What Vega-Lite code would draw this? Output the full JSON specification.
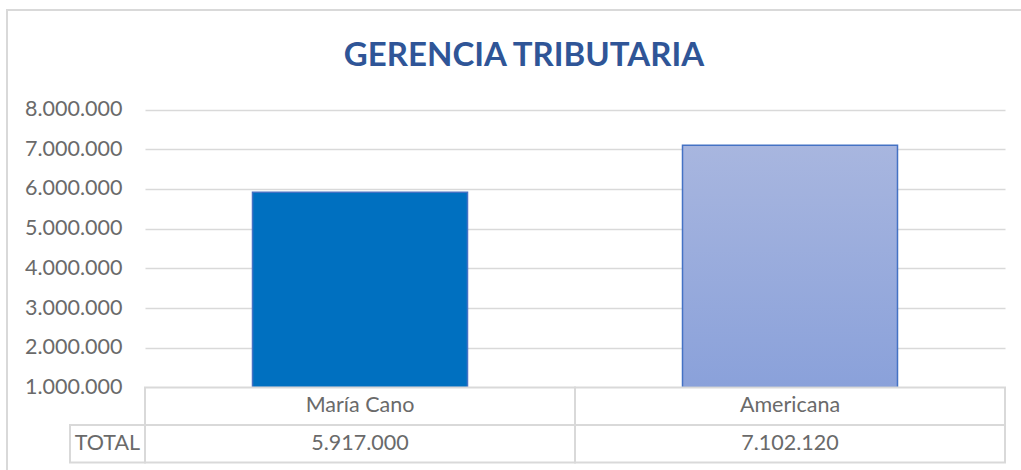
{
  "$schema": "https://vega.github.io/schema/vega-lite/v6.json",
  "width": 1030,
  "height": 475,
  "padding": {"left": 7, "top": 10, "right": 0, "bottom": 0},
  "background": "white",
  "title": {
    "text": "GERENCIA TRIBUTARIA",
    "anchor": "middle",
    "frame": "group",
    "offset": -63,
    "dx": 2,
    "font": "Lato",
    "fontSize": 33,
    "fontWeight": "bold",
    "color": "#2F5597"
  },
  "config": {
    "view": {"stroke": "#d9d9d9", "strokeWidth": 2},
    "locale": {"number": {"decimal": ",", "thousands": ".", "grouping": [3], "currency": ["$", ""]}},
    "axis": {"labelFont": "Lato", "labelFontSize": 21.5, "labelColor": "#6a6a6a"},
    "text": {"font": "Lato", "fontSize": 21.5, "fill": "#6a6a6a"}
  },
  "data": {
    "values": [
      {"sede": "María Cano", "total": 5917000},
      {"sede": "Americana", "total": 7102120}
    ]
  },
  "resolve": {"scale": {"x": "independent", "y": "independent"}},
  "layer": [
    {
      "mark": {"type": "bar", "stroke": "#4472C4", "strokeWidth": 1.5},
      "encoding": {
        "x": {
          "field": "sede", "type": "nominal",
          "scale": {"domain": ["María Cano", "Americana"], "range": [138, 998], "paddingInner": 0.5, "paddingOuter": 0.25},
          "axis": null
        },
        "y": {
          "field": "total", "type": "quantitative",
          "scale": {"domain": [1000000, 8000000], "range": [377.5, 99.5], "zero": false, "nice": false},
          "axis": {
            "values": [1000000, 2000000, 3000000, 4000000, 5000000, 6000000, 7000000, 8000000],
            "format": ",.0f",
            "offset": -138,
            "domain": false,
            "ticks": false,
            "tickSize": 0,
            "labelPadding": 23,
            "grid": true,
            "gridColor": "#d9d9d9",
            "gridWidth": 1.6,
            "title": null
          }
        },
        "y2": {"datum": 1000000},
        "fill": {
          "condition": {
            "test": "datum.sede === 'Americana'",
            "value": {"gradient": "linear", "x1": 0, "y1": 0, "x2": 0, "y2": 1,
              "stops": [{"offset": 0, "color": "#A8B6DF"}, {"offset": 1, "color": "#8AA1DA"}]}
          },
          "value": "#0070C0"
        }
      }
    },
    {
      "mark": {"type": "rect", "fill": "white", "stroke": "#d9d9d9", "strokeWidth": 2},
      "encoding": {
        "x": {"field": "sede", "type": "nominal",
          "scale": {"domain": ["María Cano", "Americana"], "range": [138, 998], "paddingInner": 0, "paddingOuter": 0}, "axis": null},
        "y": {"datum": "cabecera", "type": "nominal",
          "scale": {"domain": ["cabecera", "TOTAL"], "range": [377.5, 452.5], "paddingInner": 0, "paddingOuter": 0}, "axis": null}
      }
    },
    {
      "mark": {"type": "text", "align": "center", "baseline": "middle"},
      "encoding": {
        "x": {"field": "sede", "type": "nominal",
          "scale": {"domain": ["María Cano", "Americana"], "range": [138, 998], "paddingInner": 0, "paddingOuter": 0}, "axis": null},
        "y": {"datum": "cabecera", "type": "nominal",
          "scale": {"domain": ["cabecera", "TOTAL"], "range": [377.5, 452.5], "paddingInner": 0, "paddingOuter": 0}, "axis": null},
        "text": {"field": "sede", "type": "nominal"}
      }
    },
    {
      "mark": {"type": "rect", "fill": "white", "stroke": "#d9d9d9", "strokeWidth": 2},
      "encoding": {
        "x": {"field": "sede", "type": "nominal",
          "scale": {"domain": ["María Cano", "Americana"], "range": [138, 998], "paddingInner": 0, "paddingOuter": 0}, "axis": null},
        "y": {"datum": "TOTAL", "type": "nominal",
          "scale": {"domain": ["cabecera", "TOTAL"], "range": [377.5, 452.5], "paddingInner": 0, "paddingOuter": 0}, "axis": null}
      }
    },
    {
      "mark": {"type": "text", "align": "center", "baseline": "middle"},
      "encoding": {
        "x": {"field": "sede", "type": "nominal",
          "scale": {"domain": ["María Cano", "Americana"], "range": [138, 998], "paddingInner": 0, "paddingOuter": 0}, "axis": null},
        "y": {"datum": "TOTAL", "type": "nominal",
          "scale": {"domain": ["cabecera", "TOTAL"], "range": [377.5, 452.5], "paddingInner": 0, "paddingOuter": 0}, "axis": null},
        "text": {"field": "total", "type": "quantitative", "format": ",.0f"}
      }
    },
    {
      "data": {"values": [{"fila": "TOTAL"}]},
      "mark": {"type": "rect", "fill": "white", "stroke": "#d9d9d9", "strokeWidth": 2},
      "encoding": {
        "x": {"field": "fila", "type": "nominal",
          "scale": {"domain": ["TOTAL"], "range": [63, 138], "paddingInner": 0, "paddingOuter": 0}, "axis": null},
        "y": {"field": "fila", "type": "nominal",
          "scale": {"domain": ["cabecera", "TOTAL"], "range": [377.5, 452.5], "paddingInner": 0, "paddingOuter": 0}, "axis": null}
      }
    },
    {
      "data": {"values": [{"fila": "TOTAL"}]},
      "mark": {"type": "text", "align": "center", "baseline": "middle"},
      "encoding": {
        "x": {"field": "fila", "type": "nominal",
          "scale": {"domain": ["TOTAL"], "range": [63, 138], "paddingInner": 0, "paddingOuter": 0}, "axis": null},
        "y": {"field": "fila", "type": "nominal",
          "scale": {"domain": ["cabecera", "TOTAL"], "range": [377.5, 452.5], "paddingInner": 0, "paddingOuter": 0}, "axis": null},
        "text": {"field": "fila", "type": "nominal"}
      }
    }
  ]
}
